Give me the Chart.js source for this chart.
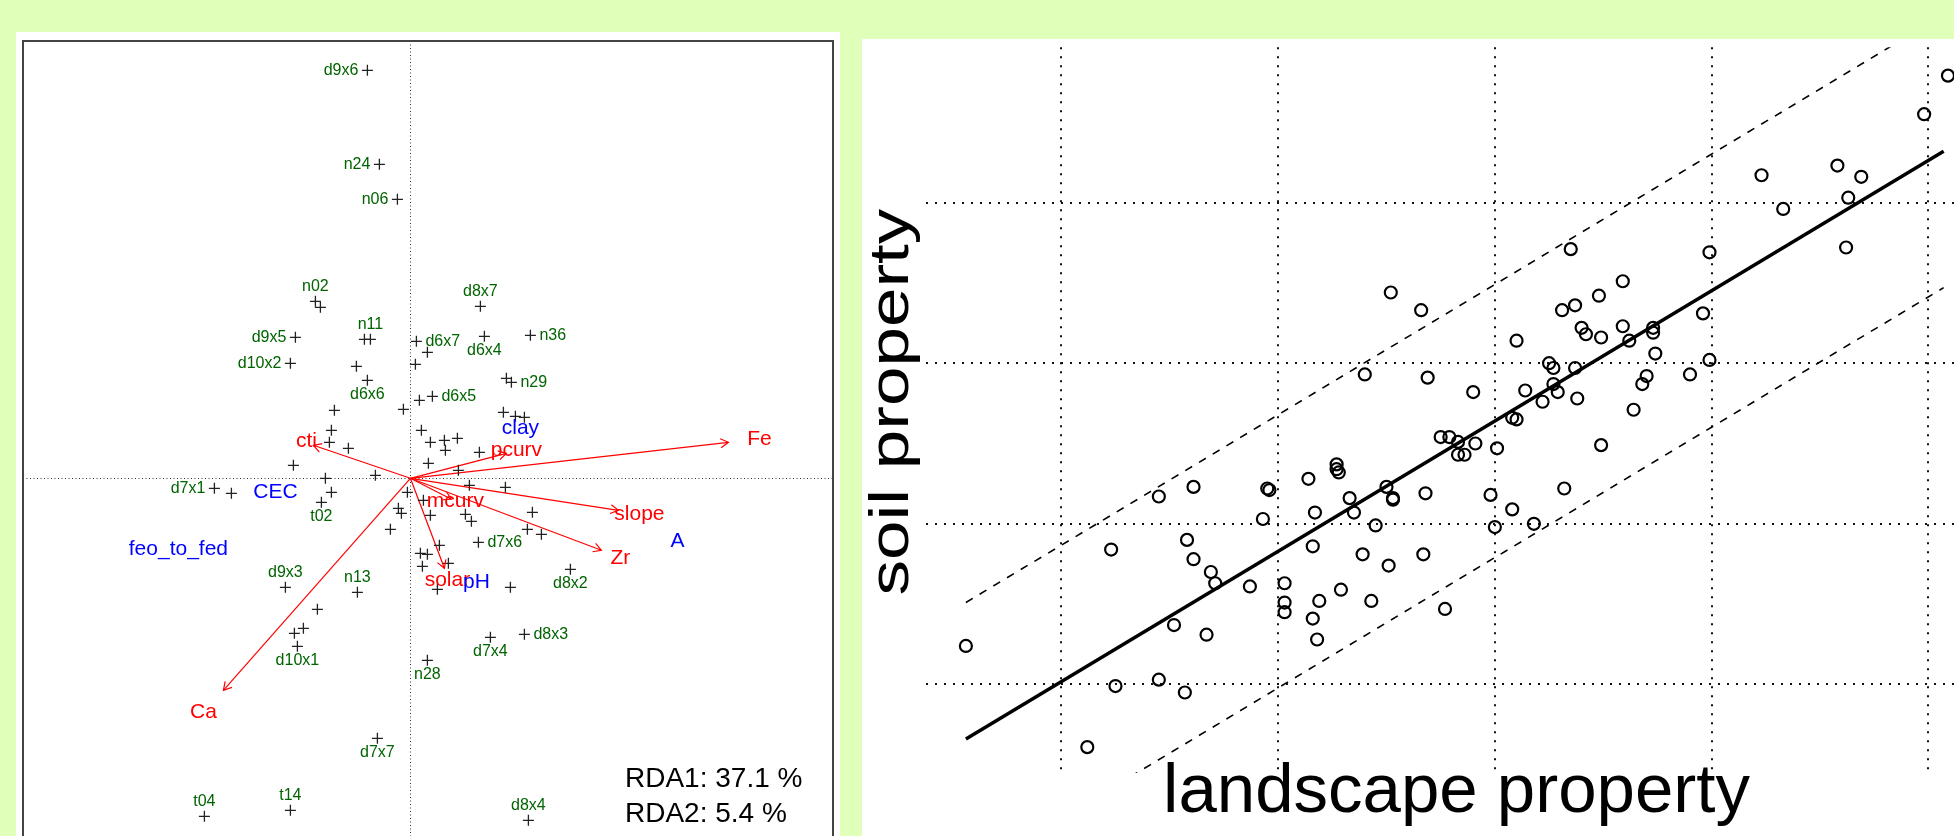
<!DOCTYPE html>
<html lang="en">
<head>
<meta charset="UTF-8" />
<title>RDA biplot and soil/landscape regression</title>
<script src="https://cdn.jsdelivr.net/npm/chart.js@4"></script>
<style>
  html, body { margin: 0; padding: 0; }
  body { width: 1954px; height: 836px; background: #e0ffb8; overflow: hidden; position: relative; }
  .panel { position: absolute; background: #ffffff; overflow: hidden; }
  #leftPanel { left: 16px; top: 32px; width: 824px; height: 804px; }
  #rightPanel { left: 862px; top: 39px; width: 1092px; height: 797px; }
  canvas { position: absolute; left: 0; top: 0; }
</style>
</head>
<body>
<div class="panel" id="leftPanel"><canvas id="rda" width="824" height="830"></canvas></div>
<div class="panel" id="rightPanel"><canvas id="reg" width="1160" height="797"></canvas></div>
<script>
// ---- RDA biplot (left) ----
// site scores, label ('' = no label) and where the label sits (l/r/t/b)
const siteNames = ["d9x6","n24","n06","n02","","d8x7","n11","","d9x5","d6x7","d6x4","n36","","d10x2","","","d6x6","n29","","d6x5",
  "","","","","","","","","","","","","","","","","","","","",
  "d7x1","","","t02","","","","","","","","","","","","","","d7x6","","",
  "","","","","","d8x2","d9x3","n13","","","","d10x1","d8x3","d7x4","n28","d7x7","t04","t14","d8x4"];
const siteX = [-0.43,-0.31,-0.13,-0.95,-0.90,0.70,-0.40,-0.46,-1.15,0.06,0.74,1.20,0.17,-1.20,-0.54,0.05,-0.43,1.01,0.96,0.22,
  0.09,-0.76,-0.07,0.93,1.05,1.14,-0.79,0.11,-0.81,-0.62,0.20,0.34,0.47,0.35,0.69,-1.17,0.18,0.48,-0.85,-0.35,
  -1.96,-1.79,-0.79,-0.89,-0.03,0.59,0.95,0.13,-0.12,-0.09,0.20,0.55,0.61,1.22,1.17,1.31,-0.20,0.68,0.29,0.10,
  0.17,0.12,0.38,0.27,1.00,1.60,-1.25,-0.53,-0.93,-1.07,-1.16,-1.13,1.14,0.80,0.17,-0.33,-2.06,-1.20,1.18];
const siteY = [4.08,3.14,2.79,1.77,1.71,1.72,1.39,1.39,1.41,1.37,1.42,1.43,1.26,1.15,1.12,1.14,0.98,0.96,1.00,0.82,
  0.78,0.68,0.69,0.66,0.62,0.61,0.48,0.48,0.36,0.30,0.36,0.38,0.40,0.28,0.26,0.13,0.15,0.08,0.00,0.03,
  -0.10,-0.15,-0.14,-0.24,-0.14,-0.07,-0.09,-0.22,-0.30,-0.35,-0.37,-0.36,-0.43,-0.34,-0.51,-0.56,-0.51,-0.64,-0.67,-0.75,
  -0.76,-0.88,-0.85,-1.11,-1.09,-0.91,-1.09,-1.14,-1.31,-1.50,-1.55,-1.68,-1.56,-1.59,-1.82,-2.60,-3.38,-3.32,-3.42];
const sitePos = ["l","l","l","t","","t","t","","l","r","b","r","","l","","","b","r","","r",
  "","","","","","","","","","","","","","","","","","","","",
  "l","","","b","","","","","","","","","","","","","","r","","",
  "","","","","","b","t","t","","","","b","r","b","b","b","t","t","t"];

// environmental arrows (tips) and their label positions
const envNames = ["Fe","slope","Zr","Ca","cti","pcurv","mcurv","solar"];
const envX = [3.18, 2.08, 1.91, -1.87, -0.97, 0.96, 0.41, 0.34];
const envY = [0.36, -0.32, -0.72, -2.12, 0.33, 0.25, -0.21, -0.90];
const envLabX = [3.49, 2.29, 2.10, -2.07, -1.04, 1.06, 0.45, 0.37];
const envLabY = [0.39, -0.36, -0.80, -2.34, 0.37, 0.28, -0.23, -1.02];

// supplementary variables (text only)
const suppNames = ["clay","CEC","feo_to_fed","A","pH"];
const suppX = [1.10, -1.35, -2.32, 2.67, 0.66];
const suppY = [0.50, -0.14, -0.71, -0.63, -1.04];

const axisLines = [0];
const eigenText = ["RDA1: 37.1 %", "RDA2: 5.4 %"];

// ---- regression panel (right) ----
const landscapeX = [5.09,4.98,4.23,4.58,4.69,4.63,4.33,4.62,3.35,3.99,3.59,2.52,3.48,3.37,3.31,2.66,3.96,3.40,3.42,3.49,
  3.59,3.62,3.73,3.73,3.10,3.74,3.25,3.27,3.37,3.99,2.40,2.69,3.90,3.70,3.68,2.90,3.14,3.27,3.29,3.38,
  3.22,3.64,3.08,3.10,2.75,2.79,2.83,2.91,2.83,2.86,3.01,3.49,2.27,2.27,2.28,2.14,1.95,1.96,1.61,1.45,
  2.50,2.53,2.53,2.68,2.33,2.98,3.32,3.08,2.17,2.35,1.93,2.45,3.00,3.18,1.23,1.58,1.61,2.16,2.39,2.51,
  2.67,1.69,1.71,1.87,2.03,2.29,2.03,2.03,2.19,2.43,2.16,2.77,2.18,1.52,1.67,0.56,1.25,1.45,1.57,1.12];
const soilY = [4.79,4.55,4.17,4.23,4.16,4.03,3.96,3.72,3.71,3.69,3.51,3.44,3.42,3.36,3.33,3.33,3.31,3.22,3.18,3.16,
  3.23,3.14,3.22,3.19,3.14,3.06,3.00,2.97,2.97,3.02,2.93,2.91,2.93,2.92,2.87,2.82,2.83,2.87,2.82,2.78,
  2.76,2.71,2.66,2.65,2.54,2.54,2.51,2.50,2.43,2.43,2.47,2.49,2.37,2.34,2.32,2.28,2.22,2.21,2.23,2.17,
  2.23,2.16,2.15,2.19,2.16,2.18,2.22,2.09,2.07,2.07,2.03,1.99,1.98,2.00,1.84,1.90,1.78,1.86,1.81,1.74,
  1.81,1.70,1.63,1.61,1.63,1.59,1.51,1.45,1.52,1.52,1.41,1.47,1.28,1.37,1.31,1.24,0.99,1.03,0.95,0.61];
const fitX = [0.56, 5.07];
const fitY = [0.66, 4.32];
const upperY = [1.51, 5.17];
const lowerY = [-0.19, 3.47];
const gridX = [1, 2, 3, 4, 5];
const gridY = [1, 2, 3, 4];

const FONT = '"Liberation Sans", Arial, Helvetica, sans-serif';
Chart.defaults.font.family = FONT;

function toPoints(xs, ys) {
  return xs.map((x, i) => ({ x: x, y: ys[i] }));
}

// arrow heads, labels, frame and eigenvalue text for the biplot
const rdaDecor = {
  id: "rdaDecor",
  afterDatasetsDraw(chart) {
    const ctx = chart.ctx;
    const xs = chart.scales.x, ys = chart.scales.y;
    const area = chart.chartArea;
    ctx.save();

    // arrow heads
    ctx.strokeStyle = "#ff0000";
    ctx.lineWidth = 1.2;
    chart.data.datasets.forEach((ds, i) => {
      if (!ds.arrow) return;
      const pts = chart.getDatasetMeta(i).data;
      const a = pts[0], b = pts[1];
      const ang = Math.atan2(b.y - a.y, b.x - a.x);
      const len = 9;
      ctx.beginPath();
      ctx.moveTo(b.x - len * Math.cos(ang - Math.PI / 6), b.y - len * Math.sin(ang - Math.PI / 6));
      ctx.lineTo(b.x, b.y);
      ctx.lineTo(b.x - len * Math.cos(ang + Math.PI / 6), b.y - len * Math.sin(ang + Math.PI / 6));
      ctx.stroke();
    });

    // site labels
    ctx.font = "16px " + FONT;
    ctx.fillStyle = "#006400";
    ctx.textBaseline = "middle";
    siteNames.forEach((name, i) => {
      if (!name) return;
      const px = xs.getPixelForValue(siteX[i]);
      const py = ys.getPixelForValue(siteY[i]);
      const pos = sitePos[i];
      if (pos === "l") { ctx.textAlign = "right"; ctx.fillText(name, px - 9, py); }
      else if (pos === "r") { ctx.textAlign = "left"; ctx.fillText(name, px + 9, py); }
      else if (pos === "t") { ctx.textAlign = "center"; ctx.fillText(name, px, py - 15); }
      else { ctx.textAlign = "center"; ctx.fillText(name, px, py + 14); }
    });

    // arrow labels and supplementary labels
    ctx.font = "21px " + FONT;
    ctx.textAlign = "center";
    ctx.fillStyle = "#ff0000";
    envNames.forEach((name, i) => {
      ctx.fillText(name, xs.getPixelForValue(envLabX[i]), ys.getPixelForValue(envLabY[i]));
    });
    ctx.fillStyle = "#0000ff";
    suppNames.forEach((name, i) => {
      ctx.fillText(name, xs.getPixelForValue(suppX[i]), ys.getPixelForValue(suppY[i]));
    });

    // eigenvalues, bottom right
    ctx.font = "28px " + FONT;
    ctx.fillStyle = "#000000";
    ctx.textAlign = "left";
    ctx.textBaseline = "alphabetic";
    ctx.fillText(eigenText[0], area.right - 208, area.bottom - 65);
    ctx.fillText(eigenText[1], area.right - 208, area.bottom - 30);

    // plot frame
    ctx.strokeStyle = "#444444";
    ctx.lineWidth = 2;
    ctx.strokeRect(area.left, area.top, area.right - area.left, area.bottom - area.top);
    ctx.restore();
  }
};

const arrowSets = envNames.map((name, i) => ({
  label: name,
  data: toPoints([0, envX[i]], [0, envY[i]]),
  showLine: true,
  borderColor: "#ff0000",
  borderWidth: 1.2,
  pointRadius: 0,
  arrow: true
}));

new Chart(document.getElementById("rda"), {
  type: "scatter",
  data: {
    datasets: [
      {
        label: "sites",
        data: toPoints(siteX, siteY),
        pointStyle: "cross",
        pointRadius: 5.5,
        pointHoverRadius: 5.5,
        borderColor: "#222222",
        borderWidth: 1.3
      },
      ...arrowSets
    ]
  },
  options: {
    responsive: false,
    animation: false,
    devicePixelRatio: 1,
    layout: { padding: { left: 7, right: 7, top: 9, bottom: 10 } },
    plugins: { legend: { display: false }, tooltip: { enabled: false } },
    scales: {
      x: {
        min: -3.874, max: 4.226,
        ticks: { display: false },
        grid: { drawTicks: false, color: "#333333", lineWidth: 1 },
        border: { display: false, dash: [1, 2.5] },
        afterBuildTicks: (axis) => { axis.ticks = axisLines.map((v) => ({ value: v })); }
      },
      y: {
        min: -3.737, max: 4.373,
        ticks: { display: false },
        grid: { drawTicks: false, color: "#333333", lineWidth: 1 },
        border: { display: false, dash: [1, 2.5] },
        afterBuildTicks: (axis) => { axis.ticks = axisLines.map((v) => ({ value: v })); }
      }
    }
  },
  plugins: [rdaDecor]
});

// rotated, slightly narrowed y title like the original
const soilTitle = {
  id: "soilTitle",
  afterDraw(chart) {
    const ctx = chart.ctx;
    const area = chart.chartArea;
    ctx.save();
    ctx.translate(46, (area.top + area.bottom) / 2 - 8);
    ctx.rotate(-Math.PI / 2);
    ctx.scale(1, 0.78);
    ctx.font = "71px " + FONT;
    ctx.fillStyle = "#000000";
    ctx.textAlign = "center";
    ctx.textBaseline = "alphabetic";
    ctx.fillText("soil property", 0, 0);
    ctx.restore();
  }
};

new Chart(document.getElementById("reg"), {
  type: "scatter",
  data: {
    datasets: [
      {
        label: "observations",
        data: toPoints(landscapeX, soilY),
        pointStyle: "circle",
        pointRadius: 6,
        pointHoverRadius: 6,
        borderColor: "#000000",
        backgroundColor: "rgba(0,0,0,0)",
        borderWidth: 2.2
      },
      { label: "fit", data: toPoints(fitX, fitY), showLine: true, borderColor: "#000000", borderWidth: 3.5, pointRadius: 0 },
      { label: "upper", data: toPoints(fitX, upperY), showLine: true, borderColor: "#000000", borderWidth: 1.6, borderDash: [8, 8], pointRadius: 0 },
      { label: "lower", data: toPoints(fitX, lowerY), showLine: true, borderColor: "#000000", borderWidth: 1.6, borderDash: [8, 8], pointRadius: 0 }
    ]
  },
  options: {
    responsive: false,
    animation: false,
    devicePixelRatio: 1,
    layout: { padding: { left: 64, right: 35, top: 4, bottom: 23 } },
    plugins: { legend: { display: false }, tooltip: { enabled: false } },
    scales: {
      x: {
        min: 0.376, max: 5.27,
        ticks: { display: false },
        grid: { drawTicks: false, color: "#111111", lineWidth: 2 },
        border: { display: false, dash: [2, 7] },
        afterBuildTicks: (axis) => { axis.ticks = gridX.map((v) => ({ value: v })); },
        title: {
          display: true,
          text: "landscape property",
          color: "#000000",
          font: { size: 69, lineHeight: 0.58 },
          padding: { top: 0, bottom: 0 }
        }
      },
      y: {
        min: 0.449, max: 4.967,
        ticks: { display: false },
        grid: { drawTicks: false, color: "#111111", lineWidth: 2 },
        border: { display: false, dash: [2, 7] },
        afterBuildTicks: (axis) => { axis.ticks = gridY.map((v) => ({ value: v })); }
      }
    }
  },
  plugins: [soilTitle]
});
</script>
</body>
</html>
